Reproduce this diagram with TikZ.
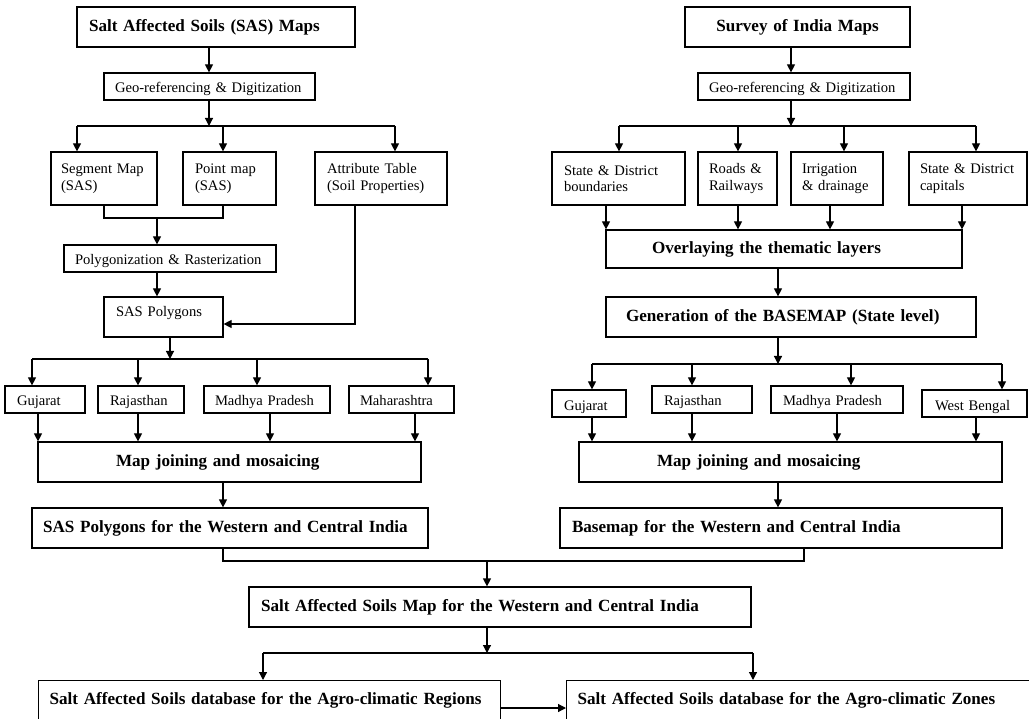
\documentclass[tikz,border=0pt]{standalone}
\usepackage{fontspec}
\setmainfont{Liberation Serif}
\usetikzlibrary{arrows.meta}
\tikzset{
  box/.style={draw, line width=1.2pt, font=\fontsize{14.6}{16.5}\selectfont, align=left, inner ysep=0pt},
  bold/.style={font=\fontsize{17.1}{20}\selectfont\bfseries},
  oneline/.style={text height=13pt, text depth=0pt},
  arr/.style={-{Triangle[length=8pt,width=8pt]}, line width=1.2pt},
  ln/.style={line width=1.2pt},
  bottombox/.style={box, bold, anchor=north west, inner xsep=11pt, inner ysep=6pt, text height=18pt, text depth=30pt, text width=440pt}
}
% #1 extra style, #2 name, #3 x1, #4 y1, #5 x2, #6 y2, #7 pad, #8 text
\newcommand{\fbx}[8][]{%
  \pgfmathsetmacro{\bw}{#5-#3-2*#7}%
  \pgfmathsetmacro{\bh}{#6-#4}%
  \pgfmathsetmacro{\bcx}{(#3+#5)/2}%
  \pgfmathsetmacro{\bcy}{(#4+#6)/2}%
  \node[box,#1,text width=\bw pt,inner xsep=#7pt,minimum height=\bh pt] (#2) at (\bcx,\bcy) {#8};%
}
\begin{document}
\begin{tikzpicture}[x=1pt,y=-1pt]
\useasboundingbox (0,0) rectangle (1029,719);
\clip (0,0) rectangle (1029,719);

% ---------- left column ----------
\fbx[bold]{sasmaps}{77}{7}{355}{47}{12}{Salt Affected Soils (SAS) Maps}
\fbx[oneline]{geoL}{104}{73}{315}{100}{11}{Geo-referencing \& Digitization}
\fbx{seg}{51}{152}{157}{205}{10}{Segment Map\\(SAS)}
\fbx{pt}{183}{152}{276}{205}{12}{Point map\\(SAS)}
\fbx{attr}{315}{152}{447}{205}{12}{Attribute Table\\(Soil Properties)}
\fbx[oneline]{poly}{64}{245}{276}{272}{11}{Polygonization \& Rasterization}
\fbx[text height=10pt, text depth=10pt]{saspoly}{104}{297}{223}{337}{12}{SAS Polygons}
\fbx[oneline]{gujL}{5}{386}{85}{413}{12}{Gujarat}
\fbx[oneline]{rajL}{98}{386}{184}{413}{12}{Rajasthan}
\fbx[oneline]{mpL}{204}{386}{330}{413}{11}{Madhya Pradesh}
\fbx[oneline]{mahL}{349}{386}{454}{413}{11}{Maharashtra}
\fbx[bold]{mjL}{38}{442}{421}{482}{78}{Map joining and mosaicing}
\fbx[bold]{sasWC}{32}{508}{428}{548}{11}{SAS Polygons for the Western and Central India}

% ---------- right column ----------
\fbx[bold,align=center]{soi}{685}{7}{910}{47}{12}{Survey of India Maps}
\fbx[oneline]{geoR}{698}{73}{910}{100}{11}{Geo-referencing \& Digitization}
\fbx{sdb}{552}{152}{685}{205}{12}{State \& District\\boundaries}
\fbx{roads}{698}{152}{777}{205}{11}{Roads \&\\Railways}
\fbx{irr}{791}{152}{883}{205}{11}{Irrigation\\\& drainage}
\fbx{cap}{909}{152}{1027}{205}{11}{State \& District\\capitals}
\fbx[bold]{overlay}{606}{230}{962}{268}{46}{Overlaying the thematic layers}
\fbx[bold]{gen}{606}{297}{976}{337}{20}{Generation of the BASEMAP (State level)}
\fbx[oneline]{gujR}{552}{390}{626}{417}{12}{Gujarat}
\fbx[oneline]{rajR}{652}{386}{752}{413}{12}{Rajasthan}
\fbx[oneline]{mpR}{771}{386}{903}{413}{12}{Madhya Pradesh}
\fbx[oneline]{wb}{922}{390}{1027}{417}{13}{West Bengal}
\fbx[bold]{mjR}{579}{442}{1002}{482}{78}{Map joining and mosaicing}
\fbx[bold]{basemap}{560}{508}{1002}{548}{12}{Basemap for the Western and Central India}

% ---------- bottom ----------
\fbx[bold]{sasmap}{249}{587}{751}{627}{12}{Salt Affected Soils Map for the Western and Central India}
\node[bottombox] (regions) at (38,680) {Salt Affected Soils database for the Agro-climatic Regions};
\node[bottombox, text width=470pt] (zones) at (566,680) {Salt Affected Soils database for the Agro-climatic Zones};

% ---------- connectors, left ----------
\coordinate (lX) at (209,0);
\draw[arr] (lX |- sasmaps.south) -- (lX |- geoL.north);
\coordinate (bLa) at (77,126);
\coordinate (bLb) at (223,126);
\coordinate (bLc) at (395,126);
\coordinate (bLm) at (209,126);
\draw[arr] (bLm |- geoL.south) -- (bLm);
\draw[ln] (bLa) -- (bLc);
\draw[arr] (bLa) -- (bLa |- seg.north);
\draw[arr] (bLb) -- (bLb |- pt.north);
\draw[arr] (bLc) -- (bLc |- attr.north);

\coordinate (mA) at (104,218);
\coordinate (mB) at (223,218);
\coordinate (mC) at (157,218);
\draw[ln] (mA |- seg.south) -- (mA) -- (mB) -- (mB |- pt.south);
\draw[arr] (mC) -- (mC |- poly.north);
\draw[arr] (mC |- poly.south) -- (mC |- saspoly.north);
\coordinate (aC) at (355,324);
\draw[arr] (aC |- attr.south) -- (aC) -- (aC -| saspoly.east);

\coordinate (sA) at (32,359);
\coordinate (sB) at (138,359);
\coordinate (sC) at (257,359);
\coordinate (sD) at (428,359);
\coordinate (sM) at (170,359);
\draw[arr] (sM |- saspoly.south) -- (sM);
\draw[ln] (sA) -- (sD);
\draw[arr] (sA) -- (sA |- gujL.north);
\draw[arr] (sB) -- (sB |- rajL.north);
\draw[arr] (sC) -- (sC |- mpL.north);
\draw[arr] (sD) -- (sD |- mahL.north);

\coordinate (jA) at (38,0);
\coordinate (jB) at (138,0);
\coordinate (jC) at (270,0);
\coordinate (jD) at (415,0);
\draw[arr] (jA |- gujL.south) -- (jA |- mjL.north);
\draw[arr] (jB |- rajL.south) -- (jB |- mjL.north);
\draw[arr] (jC |- mpL.south) -- (jC |- mjL.north);
\draw[arr] (jD |- mahL.south) -- (jD |- mjL.north);

\coordinate (cL) at (223,561);
\coordinate (cR) at (804,561);
\coordinate (cM) at (487,561);
\draw[arr] (cL |- mjL.south) -- (cL |- sasWC.north);
\draw[ln] (cL |- sasWC.south) -- (cL) -- (cR) -- (cR |- basemap.south);
\draw[arr] (cM) -- (cM |- sasmap.north);

\coordinate (dM) at (487,653);
\coordinate (dL) at (263,653);
\coordinate (dR) at (753,653);
\draw[arr] (dM |- sasmap.south) -- (dM);
\draw[ln] (dL) -- (dR);
\draw[arr] (dL) -- (dL |- regions.north);
\draw[arr] (dR) -- (dR |- zones.north);
\coordinate (eY) at (0,708);
\draw[arr] (regions.east |- eY) -- (zones.west |- eY);

% ---------- connectors, right ----------
\coordinate (rX) at (791,0);
\draw[arr] (rX |- soi.south) -- (rX |- geoR.north);
\coordinate (bRa) at (619,126);
\coordinate (bRb) at (738,126);
\coordinate (bRc) at (844,126);
\coordinate (bRd) at (976,126);
\coordinate (bRm) at (791,126);
\draw[arr] (bRm |- geoR.south) -- (bRm);
\draw[ln] (bRa) -- (bRd);
\draw[arr] (bRa) -- (bRa |- sdb.north);
\draw[arr] (bRb) -- (bRb |- roads.north);
\draw[arr] (bRc) -- (bRc |- irr.north);
\draw[arr] (bRd) -- (bRd |- cap.north);

\coordinate (oA) at (606,0);
\coordinate (oB) at (738,0);
\coordinate (oC) at (830,0);
\coordinate (oD) at (962,0);
\draw[arr] (oA |- sdb.south) -- (oA |- overlay.north);
\draw[arr] (oB |- roads.south) -- (oB |- overlay.north);
\draw[arr] (oC |- irr.south) -- (oC |- overlay.north);
\draw[arr] (oD |- cap.south) -- (oD |- overlay.north);

\coordinate (gX) at (778,0);
\draw[arr] (gX |- overlay.south) -- (gX |- gen.north);
\coordinate (gA) at (592,364);
\coordinate (gB) at (692,364);
\coordinate (gC) at (851,364);
\coordinate (gD) at (1002,364);
\coordinate (gM) at (778,364);
\draw[arr] (gM |- gen.south) -- (gM);
\draw[ln] (gA) -- (gD);
\draw[arr] (gA) -- (gA |- gujR.north);
\draw[arr] (gB) -- (gB |- rajR.north);
\draw[arr] (gC) -- (gC |- mpR.north);
\draw[arr] (gD) -- (gD |- wb.north);

\coordinate (hA) at (592,0);
\coordinate (hB) at (692,0);
\coordinate (hC) at (837,0);
\coordinate (hD) at (976,0);
\draw[arr] (hA |- gujR.south) -- (hA |- mjR.north);
\draw[arr] (hB |- rajR.south) -- (hB |- mjR.north);
\draw[arr] (hC |- mpR.south) -- (hC |- mjR.north);
\draw[arr] (hD |- wb.south) -- (hD |- mjR.north);
\draw[arr] (gX |- mjR.south) -- (gX |- basemap.north);
\end{tikzpicture}
\end{document}
